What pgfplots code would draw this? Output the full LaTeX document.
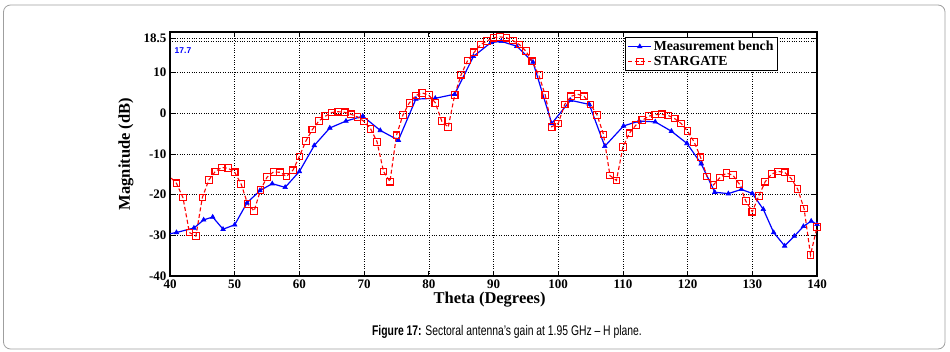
\documentclass[border=0pt]{standalone}
\usepackage{fontspec}
\setmainfont{Liberation Serif}
\newfontfamily\capfont{Liberation Sans}
\usepackage{pgfplots}
\pgfplotsset{compat=1.18}
\usepackage{graphicx}
\definecolor{mblue}{RGB}{0,0,255}
\definecolor{mred}{RGB}{255,0,0}
\begin{document}
\begin{tikzpicture}
\useasboundingbox (0,0) rectangle (950pt,351pt);
\draw[gray!75, rounded corners=7pt, line width=0.8pt] (3.5pt,2pt) rectangle (945pt,346pt);
\begin{axis}[
  at={(170pt,75pt)}, anchor=south west,
  scale only axis, width=647pt, height=244pt,
  xmin=40, xmax=140, ymin=-40, ymax=20,
  xtick={40,50,...,140},
  ytick={-40,-30,-20,-10,0,10,18.5},
  extra y ticks={17.7},
  extra y tick labels={},
  extra y tick style={major tick length=0pt},
  grid=major,
  grid style={black, dotted, line width=0.5pt},
  axis line style={black, line width=1.2pt},
  major tick style={black, line width=0.8pt},
  major tick length=5pt,
  tick align=inside,
  /pgf/number format/assume math mode=true,
  /pgf/number format/fixed,
  ticklabel style={font=\fontsize{13}{15}\selectfont\bfseries},
  xlabel={Theta (Degrees)},
  ylabel={Magnitude (dB)},
  label style={font=\fontsize{16.5}{19}\selectfont\bfseries},
  xlabel style={at={(axis description cs:0.494,-0.098)}, anchor=center},
  ylabel style={at={(axis description cs:-0.068,0.5)}, anchor=center},
  legend style={at={(rel axis cs:0.9397,0.9795)}, anchor=north east,
    draw=black, line width=1pt, fill=white,
    font=\fontsize{13.8}{15}\selectfont\bfseries,
    inner xsep=2pt, inner ysep=1.5pt, row sep=0pt, cells={anchor=west}},
  legend image code/.code={\draw[mark repeat=2,mark phase=2,#1] plot coordinates {(0cm,0cm) (0.4cm,0cm) (0.8cm,0cm)};},
  clip mode=global,
]
\addplot[mblue, line width=1.2pt, mark=triangle*, mark size=2.6pt, mark options={solid, line width=0.6pt}] coordinates {
(39,-29.9) (41,-29.3) (43.7,-28.2) (45.2,-26.2) (46.6,-25.5) (48.2,-28.5) (50.0,-27.4)
(51.9,-22.0) (53.9,-19.0) (55.8,-17.3) (57.8,-18.2) (60.0,-14.3) (62.3,-7.9) (64.7,-3.6)
(67.2,-1.9) (69.8,-0.7) (72.5,-4.2) (75.3,-6.6) (78.0,3.5) (81.0,3.7) (84.0,4.7)
(86.9,14.0) (89.6,17.4) (91.2,17.7) (93.6,16.5) (96.1,12.6) (99.0,-2.5) (101.9,3.2)
(104.8,2.2) (107.2,-8.1) (110.1,-3.1) (112.5,-1.9) (115.0,-2.1) (117.5,-4.4) (119.9,-7.4)
(122.1,-12.4) (124.2,-19.4) (126.3,-19.75) (128.3,-18.7) (130.0,-19.7) (131.7,-23.6)
(133.3,-29.3) (135.0,-32.6) (136.5,-30.2) (137.9,-27.8) (139.1,-26.5) (140.0,-27.3)
};
\addlegendentry{Measurement bench}
\addplot[mred, line width=1.1pt, dash pattern=on 4pt off 2.5pt, mark=square, mark size=3.3pt, mark options={solid, line width=1.1pt}] coordinates {
(39.5,-14.8) (41,-17.2) (42,-20.7) (43,-29.3) (44,-30.2) (45,-20.7) (46,-16.4) (47,-14.3)
(48,-13.3) (49,-13.5) (50,-14.5) (51,-17.4) (52,-22.3) (53,-24.0) (54,-18.8) (55,-15.7)
(56,-14.4) (57,-14.5) (58,-15.5) (59,-14.0) (60,-10.6) (61,-6.8) (62,-4.0) (63,-1.9)
(64,-0.7) (65,0.2) (66,0.4) (67,0.25) (68,-0.25) (69,-0.9) (70,-2.0) (71,-3.8)
(72,-7.0) (73,-14.3) (74,-16.8) (75,-5.4) (76,-0.4) (77,2.6) (78,4.4) (79,5.0)
(80,4.5) (81,2.6) (82,-1.9) (83,-3.4) (84,4.5) (85,9.5) (86,13.0) (87,15.0)
(88,16.9) (89,17.8) (90,18.6) (91,18.8) (92,18.6) (93,17.9) (94,16.9) (95,15.3)
(96,12.8) (97,9.4) (98,4.5) (99,-3.3) (100,-2.5) (101,2.2) (102,4.2) (103,4.7)
(104,4.2) (105,2.2) (106,-0.4) (107,-5.2) (108,-15.3) (109,-16.5) (110,-8.3) (111,-4.9)
(112,-2.9) (113,-1.7) (114,-0.7) (115,-0.3) (116,-0.25) (117,-0.5) (118,-1.3) (119,-2.5)
(120,-4.4) (121,-7.0) (122,-10.8) (123,-15.5) (124,-17.6) (125,-15.8) (126,-14.7) (127,-15.2)
(128,-17.4) (129,-21.6) (130,-24.2) (131,-20.3) (132,-16.8) (133,-14.9) (134,-14.3) (135,-14.5)
(136,-16.0) (137,-18.6) (138,-23.4) (139,-34.8) (140,-28.0)
};
\addlegendentry{STARGATE}
\node[anchor=west, text=mblue, font=\capfont\fontsize{8.5}{10}\selectfont\bfseries, inner sep=0pt] at (axis cs:40.7,15.4) {17.7};
\end{axis}
\node[anchor=center, inner sep=0pt] at (507pt,19pt) {\scalebox{0.74}[1]{\capfont\fontsize{14}{16}\selectfont\textbf{Figure 17:} Sectoral antenna’s gain at 1.95 GHz – H plane.}};
\end{tikzpicture}
\end{document}
